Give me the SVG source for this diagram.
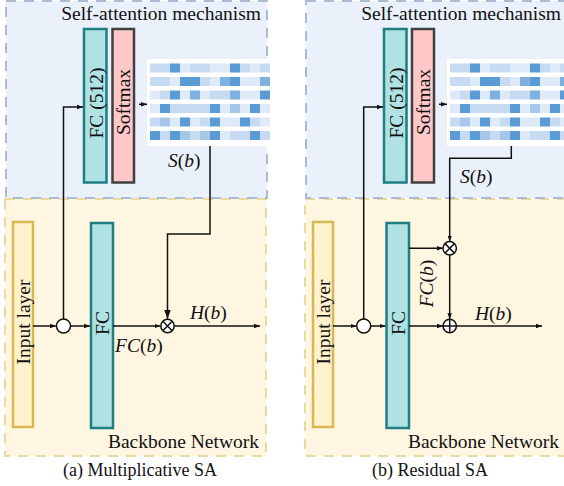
<svg xmlns="http://www.w3.org/2000/svg" width="564" height="486" viewBox="0 0 564 486">
<defs>
<style>
.t{font-family:'Liberation Serif','Times New Roman','DejaVu Serif',serif;font-size:19.5px;fill:#111}
.cap{font-family:'Liberation Serif','Times New Roman','DejaVu Serif',serif;font-size:18px;fill:#111}
.i{font-style:italic}
.blue{fill:#eaf1fb;stroke:#aabbd2;stroke-width:2;stroke-dasharray:10 8}
.yel{fill:#fff6e1;stroke:#ecd9a0;stroke-width:2;stroke-dasharray:10 8}
.fc{fill:#b0e2e4;stroke:#1d7f82;stroke-width:2.5}
.sm{fill:#ffc8c8;stroke:#404040;stroke-width:2.5}
.inp{fill:#fff2cc;stroke:#d8b855;stroke-width:2.5}
.ln{fill:none;stroke:#111;stroke-width:1.5}
.op{fill:#fff;stroke:#111;stroke-width:1.5}
.D{fill:#5b9bd5}.M{fill:#7eb0e0}.m{fill:#a7c7e9}.L{fill:#c6dbf1}.V{fill:#deeaf7}
</style>
<marker id="ah" markerUnits="userSpaceOnUse" markerWidth="10" markerHeight="8" refX="9" refY="4" orient="auto">
<path d="M0,0.8 L9,4 L0,7.2 Z" fill="#111"/>
</marker>
<marker id="ahs" markerUnits="userSpaceOnUse" markerWidth="7" markerHeight="6" refX="6" refY="3" orient="auto">
<path d="M0,0.8 L6,3 L0,5.2 Z" fill="#111"/>
</marker>
<g id="matrix">
<rect x="147" y="59" width="125" height="87" fill="#fff"/>
<g transform="translate(150,63.5)">
<rect class="L" x="0" y="0" width="10" height="9"/><rect class="L" x="10" y="0" width="10" height="9"/><rect class="D" x="20" y="0" width="10" height="9"/><rect class="V" x="30" y="0" width="10" height="9"/><rect class="L" x="40" y="0" width="10" height="9"/><rect class="L" x="50" y="0" width="10" height="9"/><rect class="V" x="60" y="0" width="10" height="9"/><rect class="V" x="70" y="0" width="10" height="9"/><rect class="D" x="80" y="0" width="10" height="9"/><rect class="L" x="90" y="0" width="10" height="9"/><rect class="V" x="100" y="0" width="10" height="9"/><rect class="L" x="110" y="0" width="10" height="9"/>
</g>
<g transform="translate(150,77)">
<rect class="L" x="0" y="0" width="10" height="9"/><rect class="L" x="10" y="0" width="10" height="9"/><rect class="V" x="20" y="0" width="10" height="9"/><rect class="D" x="30" y="0" width="10" height="9"/><rect class="D" x="40" y="0" width="10" height="9"/><rect class="L" x="50" y="0" width="10" height="9"/><rect class="V" x="60" y="0" width="10" height="9"/><rect class="M" x="70" y="0" width="10" height="9"/><rect class="D" x="80" y="0" width="10" height="9"/><rect class="V" x="90" y="0" width="10" height="9"/><rect class="V" x="100" y="0" width="10" height="9"/><rect class="M" x="110" y="0" width="10" height="9"/>
</g>
<g transform="translate(150,90.5)">
<rect class="V" x="0" y="0" width="10" height="9"/><rect class="L" x="10" y="0" width="10" height="9"/><rect class="D" x="20" y="0" width="10" height="9"/><rect class="V" x="30" y="0" width="10" height="9"/><rect class="M" x="40" y="0" width="10" height="9"/><rect class="V" x="50" y="0" width="10" height="9"/><rect class="L" x="60" y="0" width="10" height="9"/><rect class="L" x="70" y="0" width="10" height="9"/><rect class="M" x="80" y="0" width="10" height="9"/><rect class="V" x="90" y="0" width="10" height="9"/><rect class="V" x="100" y="0" width="10" height="9"/><rect class="D" x="110" y="0" width="10" height="9"/>
</g>
<g transform="translate(150,104)">
<rect class="V" x="0" y="0" width="10" height="9"/><rect class="D" x="10" y="0" width="10" height="9"/><rect class="L" x="20" y="0" width="10" height="9"/><rect class="L" x="30" y="0" width="10" height="9"/><rect class="L" x="40" y="0" width="10" height="9"/><rect class="L" x="50" y="0" width="10" height="9"/><rect class="D" x="60" y="0" width="10" height="9"/><rect class="V" x="70" y="0" width="10" height="9"/><rect class="m" x="80" y="0" width="10" height="9"/><rect class="V" x="90" y="0" width="10" height="9"/><rect class="D" x="100" y="0" width="10" height="9"/><rect class="V" x="110" y="0" width="10" height="9"/>
</g>
<g transform="translate(150,117.5)">
<rect class="L" x="0" y="0" width="10" height="9"/><rect class="m" x="10" y="0" width="10" height="9"/><rect class="V" x="20" y="0" width="10" height="9"/><rect class="D" x="30" y="0" width="10" height="9"/><rect class="V" x="40" y="0" width="10" height="9"/><rect class="L" x="50" y="0" width="10" height="9"/><rect class="D" x="60" y="0" width="10" height="9"/><rect class="V" x="70" y="0" width="10" height="9"/><rect class="V" x="80" y="0" width="10" height="9"/><rect class="D" x="90" y="0" width="10" height="9"/><rect class="L" x="100" y="0" width="10" height="9"/><rect class="V" x="110" y="0" width="10" height="9"/>
</g>
<g transform="translate(150,131)">
<rect class="D" x="0" y="0" width="10" height="9"/><rect class="L" x="10" y="0" width="10" height="9"/><rect class="D" x="20" y="0" width="10" height="9"/><rect class="m" x="30" y="0" width="10" height="9"/><rect class="L" x="40" y="0" width="10" height="9"/><rect class="m" x="50" y="0" width="10" height="9"/><rect class="D" x="60" y="0" width="10" height="9"/><rect class="V" x="70" y="0" width="10" height="9"/><rect class="L" x="80" y="0" width="10" height="9"/><rect class="L" x="90" y="0" width="10" height="9"/><rect class="D" x="100" y="0" width="10" height="9"/><rect class="L" x="110" y="0" width="10" height="9"/>
</g>
</g>
</defs>

<!-- Panel (a) -->
<g id="panel-a">
<rect id="a-backbone" class="yel" x="5" y="199" width="261" height="257"/>
<rect id="a-sa" class="blue" x="6" y="1" width="261" height="197"/>
<text class="t" x="261" y="20" text-anchor="end">Self-attention mechanism</text>
<text class="t" x="259" y="448" text-anchor="end">Backbone Network</text>
</g>
<!-- Panel (b) -->
<g id="panel-b">
<rect id="b-backbone" class="yel" x="305" y="199" width="264" height="257"/>
<rect id="b-sa" class="blue" x="306" y="1" width="264" height="197"/>
<text class="t" x="561" y="20" text-anchor="end">Self-attention mechanism</text>
<text class="t" x="559" y="448" text-anchor="end">Backbone Network</text>
</g>

<!-- Nodes (a) -->
<g id="a-fc512"><rect class="fc" x="84" y="29" width="22.5" height="153.5"/><text class="t" text-anchor="middle" dominant-baseline="central" transform="translate(96,103) rotate(-90)">FC (512)</text></g>
<g id="a-softmax"><rect class="sm" x="112.5" y="29" width="21.5" height="153.5"/><text class="t" text-anchor="middle" dominant-baseline="central" transform="translate(123.5,102) rotate(-90)">Softmax</text></g>
<g id="a-attn"><use href="#matrix"/><text class="t" x="168" y="167"><tspan class="i">S</tspan>(<tspan class="i">b</tspan>)</text></g>
<g id="a-input"><rect class="inp" x="13" y="222" width="20" height="205"/><text class="t" text-anchor="middle" dominant-baseline="central" transform="translate(23.5,322) rotate(-90)">Input layer</text></g>
<g id="a-split"><circle class="op" cx="63.5" cy="326" r="7"/></g>
<g id="a-fc"><rect class="fc" x="91" y="223" width="22" height="205"/><text class="t" text-anchor="middle" dominant-baseline="central" transform="translate(102.5,323) rotate(-90)">FC</text></g>
<g id="a-mul"><circle class="op" cx="167.5" cy="326" r="6.7"/><path class="ln" d="M162.8,321.3 L172.2,330.7 M172.2,321.3 L162.8,330.7"/></g>

<!-- Nodes (b) -->
<g id="b-fc512"><rect class="fc" x="384" y="29" width="22.5" height="153.5"/><text class="t" text-anchor="middle" dominant-baseline="central" transform="translate(396,103) rotate(-90)">FC (512)</text></g>
<g id="b-softmax"><rect class="sm" x="412" y="29" width="22" height="153.5"/><text class="t" text-anchor="middle" dominant-baseline="central" transform="translate(423.5,102) rotate(-90)">Softmax</text></g>
<g id="b-attn"><use href="#matrix" transform="translate(300,0)"/><text class="t" x="460" y="183"><tspan class="i">S</tspan>(<tspan class="i">b</tspan>)</text></g>
<g id="b-input"><rect class="inp" x="313" y="222" width="20" height="205"/><text class="t" text-anchor="middle" dominant-baseline="central" transform="translate(323.5,322) rotate(-90)">Input layer</text></g>
<g id="b-split"><circle class="op" cx="363.7" cy="326" r="7"/></g>
<g id="b-fc"><rect class="fc" x="386.5" y="223" width="22.5" height="205"/><text class="t" text-anchor="middle" dominant-baseline="central" transform="translate(398.5,323) rotate(-90)">FC</text></g>
<g id="b-mul"><circle class="op" cx="449.7" cy="248.3" r="6.7"/><path class="ln" d="M445,243.6 L454.4,253 M454.4,243.6 L445,253"/></g>
<g id="b-add"><circle class="op" cx="449.7" cy="326" r="6.7"/><path class="ln" d="M443,326 H456.4 M449.7,319.3 V332.7"/></g>

<!-- Connectors -->
<g id="connectors">
<path class="ln" d="M33,326 H56" marker-end="url(#ahs)"/>
<path class="ln" d="M63.5,319 V107 H83" marker-end="url(#ahs)"/>
<path class="ln" d="M70.5,326 H90" marker-end="url(#ahs)"/>
<path class="ln" d="M139,104.3 H147" marker-end="url(#ahs)"/>
<path class="ln" d="M210,146 V234 H167.5 V319" marker-end="url(#ah)"/>
<path class="ln" d="M113,326 H160.5" marker-end="url(#ahs)"/>
<path class="ln" d="M174.2,326 H260" marker-end="url(#ahs)"/>
<text class="t" x="190" y="319"><tspan class="i">H</tspan>(<tspan class="i">b</tspan>)</text>
<text class="t" x="115" y="352"><tspan class="i">FC</tspan>(<tspan class="i">b</tspan>)</text>

<path class="ln" d="M333,326 H356.5" marker-end="url(#ahs)"/>
<path class="ln" d="M363.7,319 V107 H383" marker-end="url(#ahs)"/>
<path class="ln" d="M370.7,326 H385.5" marker-end="url(#ahs)"/>
<path class="ln" d="M439,104.3 H447" marker-end="url(#ahs)"/>
<path class="ln" d="M511.3,146 V158.3 H449.7 V241.5" marker-end="url(#ahs)"/>
<path class="ln" d="M409,248.3 H443" marker-end="url(#ahs)"/>
<path class="ln" d="M409,326 H443" marker-end="url(#ahs)"/>
<path class="ln" d="M449.7,255 V319.3" marker-end="url(#ahs)"/>
<path class="ln" d="M456.4,326 H542" marker-end="url(#ahs)"/>
<text class="t" x="475" y="320"><tspan class="i">H</tspan>(<tspan class="i">b</tspan>)</text>
<text class="t" text-anchor="middle" transform="translate(433,283.5) rotate(-90)"><tspan class="i">FC</tspan>(<tspan class="i">b</tspan>)</text>
</g>

<text class="cap" x="140" y="476" text-anchor="middle">(a) Multiplicative SA</text>
<text class="cap" x="430" y="476" text-anchor="middle">(b) Residual SA</text>
</svg>
